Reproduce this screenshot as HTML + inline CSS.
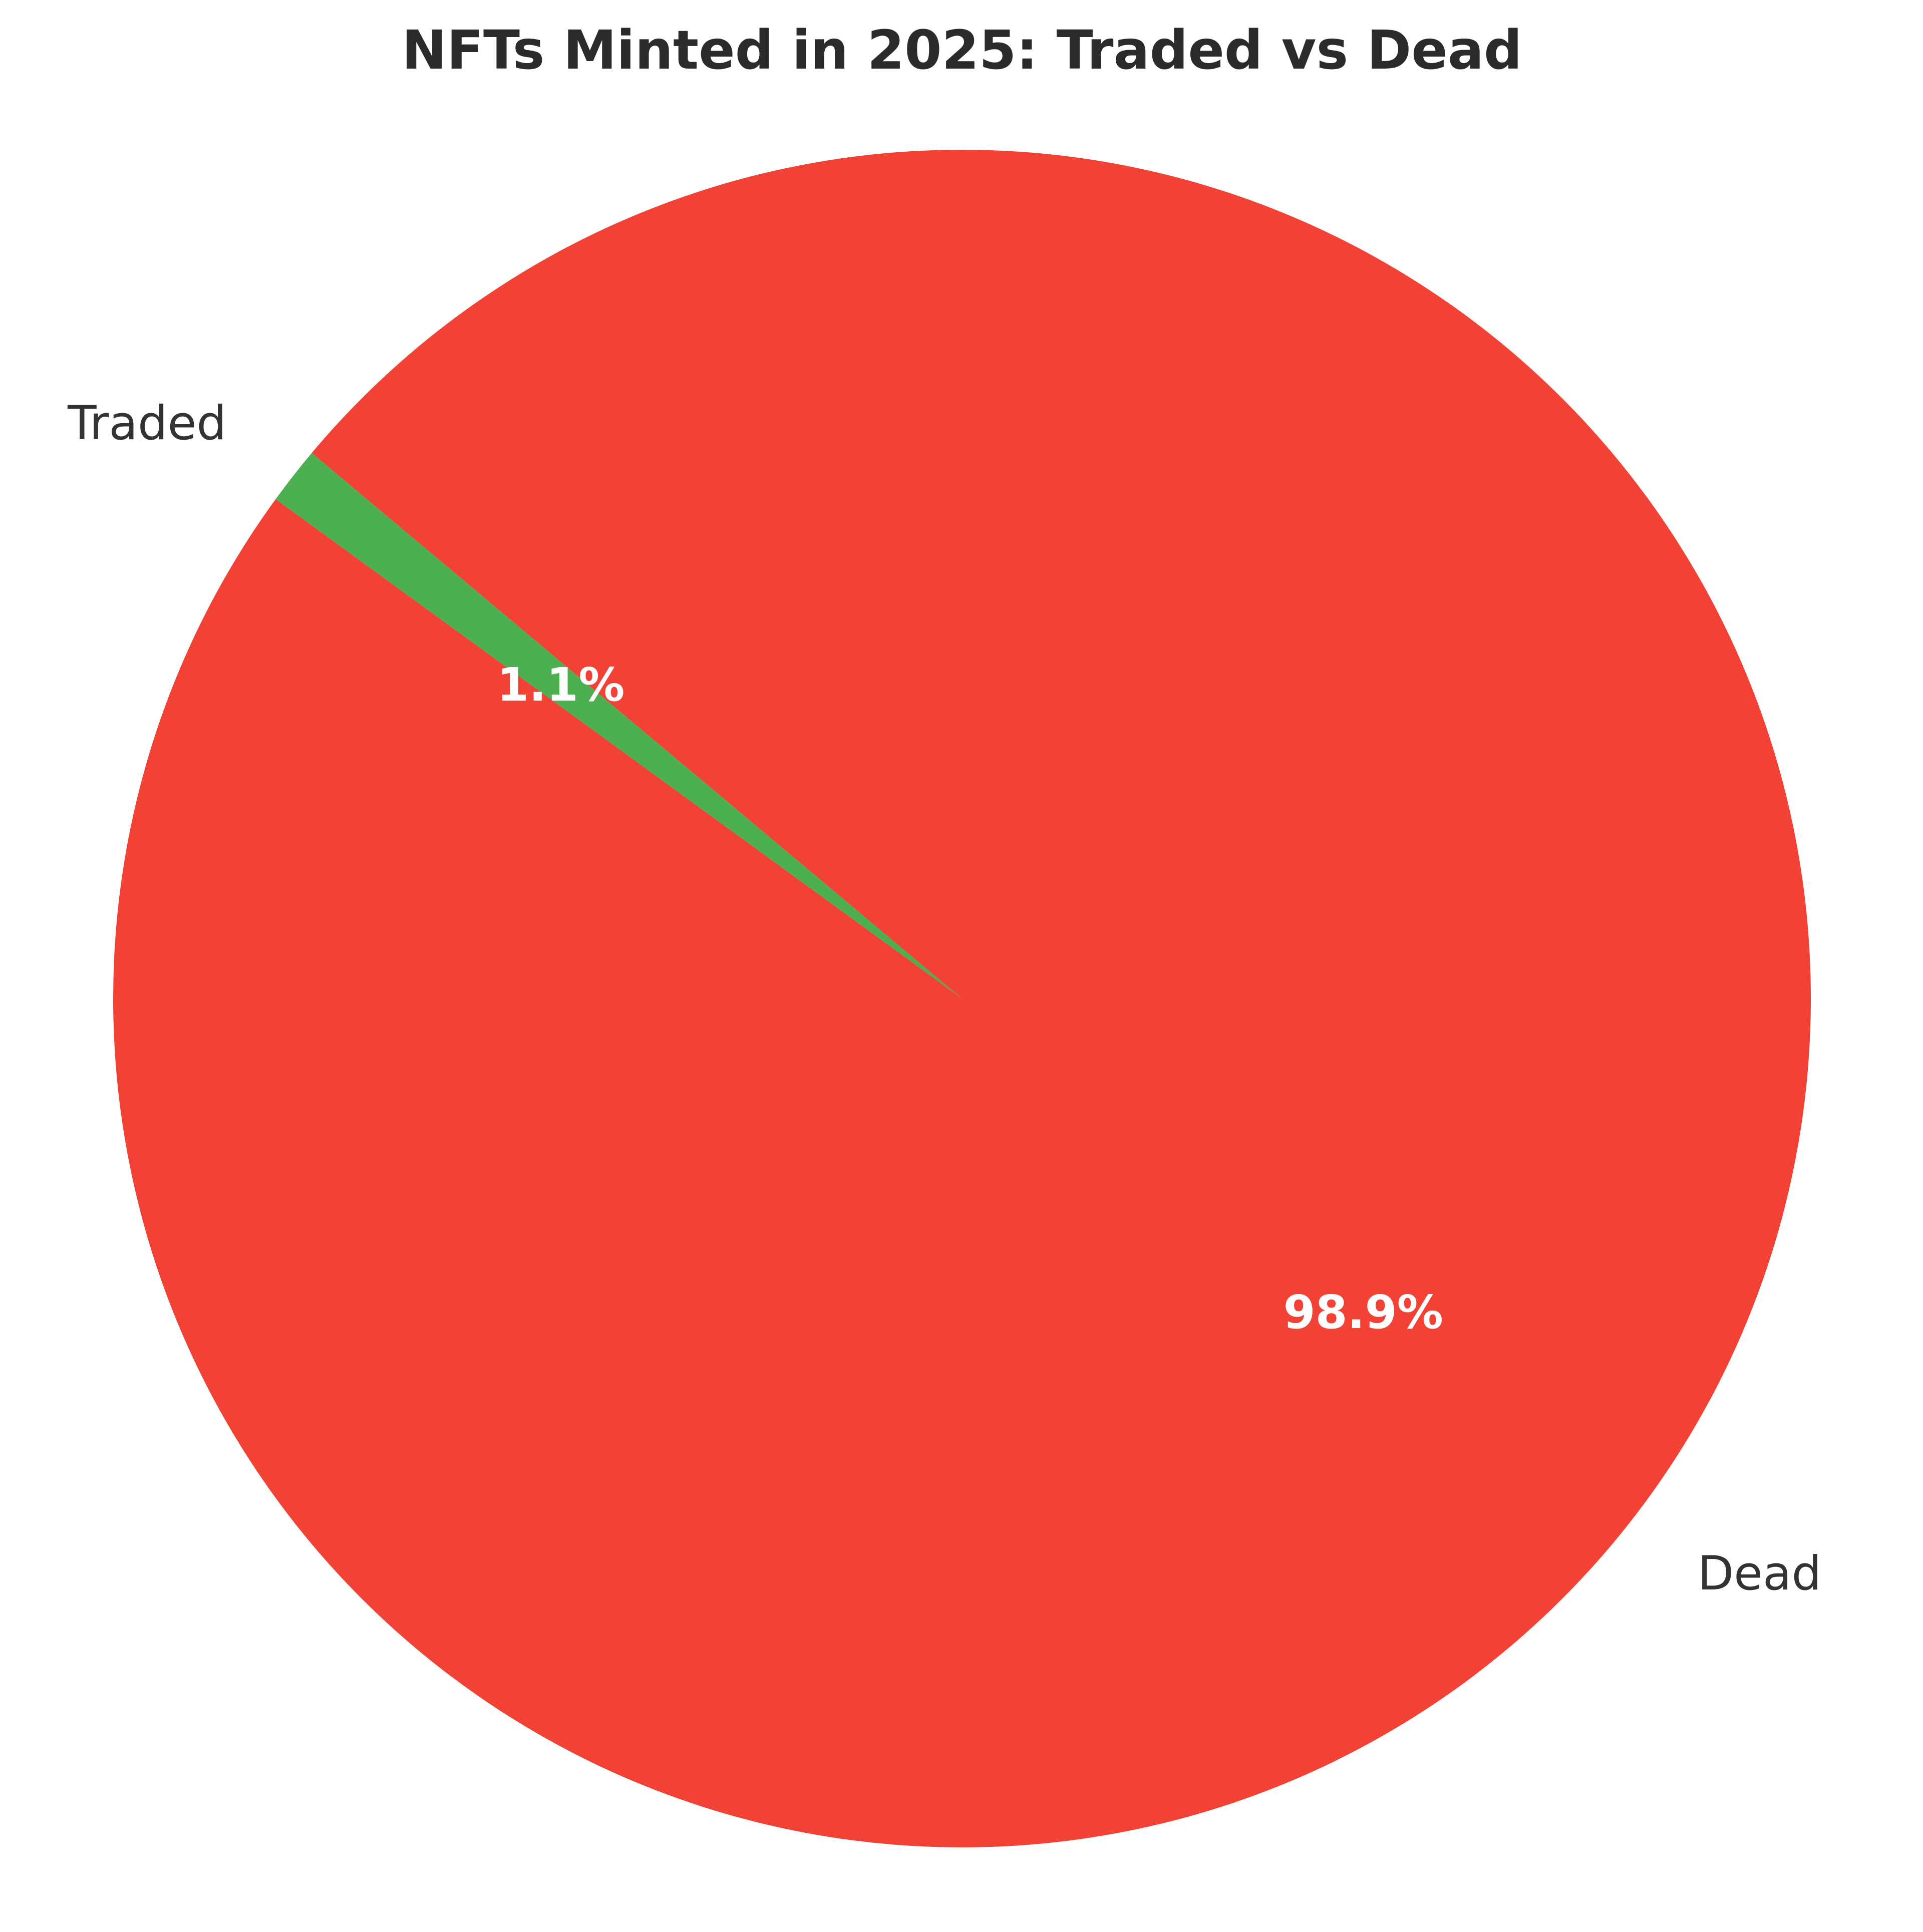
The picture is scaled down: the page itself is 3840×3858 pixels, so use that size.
<!DOCTYPE html>
<html><head><meta charset="utf-8"><style>
html,body{margin:0;padding:0;background:#fff;}
svg{display:block;}
text{font-family:"DejaVu Sans","Liberation Sans",sans-serif;}
</style></head><body>
<svg id="chart" width="3840" height="3858" viewBox="0 0 3840 3858" xmlns="http://www.w3.org/2000/svg">
<rect width="3840" height="3858" fill="#ffffff"/>
<text x="1921" y="137" text-anchor="middle" font-size="107" font-weight="bold" fill="#2b2b2b">NFTs Minted in 2025: Traded vs Dead</text>
<g id="slices"></g>
<g id="labels"></g>
</svg>
<script>
const categories = ["Traded", "Dead"];
const values = [1.1, 98.9];
const colors = ["#4caf50", "#f24235"];
const startAngle = 140;

const cx = 1921, cy = 1994, R = 1695;
const NS = "http://www.w3.org/2000/svg";
const slicesG = document.getElementById('slices');
const labelsG = document.getElementById('labels');
const total = values.reduce((a,b)=>a+b,0);
function pt(deg, r){ const a = deg*Math.PI/180; return [cx + r*Math.cos(a), cy - r*Math.sin(a)]; }
let ang = startAngle;
values.forEach((v,i)=>{
  const sweep = v/total*360;
  const a0 = ang, a1 = ang + sweep;
  const p0 = pt(a0,R), p1 = pt(a1,R);
  const large = sweep > 180 ? 1 : 0;
  const path = document.createElementNS(NS,'path');
  path.setAttribute('d', `M${cx},${cy} L${p0[0]},${p0[1]} A${R},${R} 0 ${large} 0 ${p1[0]},${p1[1]} Z`);
  path.setAttribute('fill', colors[i]);
  
  
  slicesG.appendChild(path);
  const mid = (a0+a1)/2;
  const lp = pt(mid, R*1.1);
  const lab = document.createElementNS(NS,'text');
  lab.setAttribute('x', lp[0]); lab.setAttribute('y', lp[1]);
  lab.setAttribute('text-anchor', Math.cos(mid*Math.PI/180) < 0 ? 'end' : 'start');
  lab.setAttribute('dominant-baseline', 'central');
  lab.setAttribute('font-size', '94');
  lab.setAttribute('fill', '#333333');
  lab.textContent = categories[i];
  
  
  labelsG.appendChild(lab);
  const pp = pt(mid, R*0.6);
  const pct = document.createElementNS(NS,'text');
  pct.setAttribute('x', pp[0]); pct.setAttribute('y', pp[1]);
  pct.setAttribute('text-anchor', 'middle');
  pct.setAttribute('dominant-baseline', 'central');
  pct.setAttribute('font-size', '92');
  pct.setAttribute('font-weight', 'bold');
  pct.setAttribute('fill', '#ffffff');
  pct.textContent = (v/total*100).toFixed(1) + '%';
  
  
  labelsG.appendChild(pct);
  ang = a1;
});
</script>
</body></html>
